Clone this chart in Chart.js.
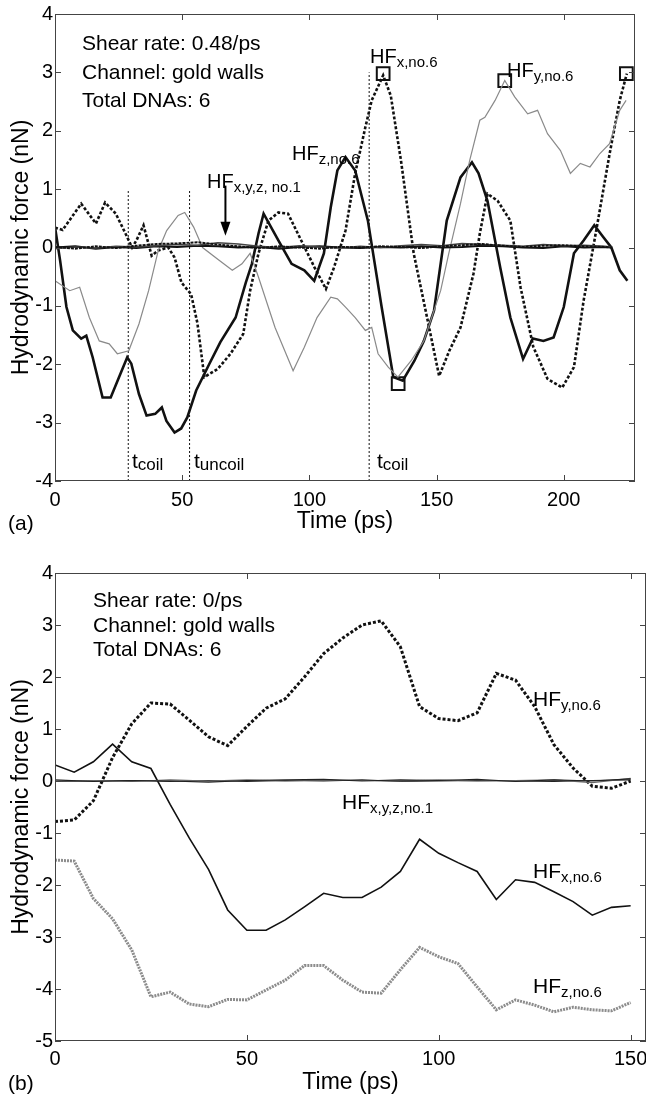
<!DOCTYPE html>
<html>
<head>
<meta charset="utf-8">
<script src="https://cdn.jsdelivr.net/npm/chart.js@4.4.1/dist/chart.umd.min.js"></script>
<style>
  html, body { margin: 0; padding: 0; background: #fff; }
  #wrap { position: relative; width: 646px; height: 1099px; overflow: hidden; }
  canvas { position: absolute; left: 0; }
  #chartA { top: 0; width: 646px; height: 545px; }
  #chartB { top: 545px; width: 646px; height: 554px; }
</style>
</head>
<body>
<div id="wrap">
  <canvas id="chartA" width="646" height="545"></canvas>
  <canvas id="chartB" width="646" height="554"></canvas>
</div>
<script>
const FAM = "'Liberation Sans', Arial, sans-serif";
Chart.defaults.font.family = FAM;
Chart.defaults.color = '#000';

// ---------- panel (a): shear rate 0.48/ps ----------
const aTicksX = [0, 50, 100, 150, 200];
const aTicksY = [-4, -3, -2, -1, 0, 1, 2, 3, 4];

// HF x, no.6 (thick dashed)
const aHFxT = [0, 3, 10.3, 16.1, 19.7, 23.9, 27.7, 30.3, 32, 34.8, 38, 40.6, 44.5, 47, 49.7, 53.5, 56, 58.7, 64, 69, 74, 76.7, 80, 83.9, 87.8, 91.6, 96.8, 102, 106.5, 109.7, 114.2, 118, 122, 124.5, 129, 132, 136, 141, 146.5, 151, 155, 159.4, 164.5, 167, 170, 174, 179, 183, 188, 193.6, 199.4, 204, 207.8, 213, 218, 222, 224.8];
const aHFx  = [0.34, 0.3, 0.75, 0.41, 0.77, 0.58, 0.24, 0.0, 0.12, 0.38, -0.14, -0.05, 0.0, -0.17, -0.6, -0.8, -1.3, -2.22, -2.08, -1.82, -1.48, -0.74, -0.1, 0.46, 0.6, 0.58, 0.12, -0.34, -0.71, -0.34, 0.29, 1.27, 2.06, 2.52, 2.95, 2.6, 1.49, -0.1, -1.25, -2.2, -1.77, -1.37, -0.45, 0.24, 0.92, 0.8, 0.46, -0.68, -1.7, -2.25, -2.4, -2.05, -0.91, 0.35, 1.6, 2.52, 2.98];

// HF z, no.6 (thick solid)
const aHFzT = [0, 2, 4.5, 7, 10.3, 12.3, 14.8, 18.7, 21.9, 25.2, 28.4, 30, 33, 36, 39.4, 42, 43.8, 47, 49.6, 52, 55.5, 60.6, 65, 71, 75, 77.4, 80, 82, 87.8, 93, 98, 101.9, 105.7, 108.4, 111, 114.2, 118, 123, 128.4, 133, 136.7, 141.3, 145, 149, 154, 159.4, 163.9, 166.5, 170, 175, 179, 184, 187.8, 192, 196, 200, 204, 207.8, 212, 215.5, 218.7, 222, 225];
const aHFz  = [0.35, -0.22, -1.02, -1.42, -1.56, -1.51, -1.88, -2.57, -2.57, -2.22, -1.88, -1.99, -2.51, -2.88, -2.85, -2.74, -2.97, -3.17, -3.1, -2.91, -2.45, -2.0, -1.62, -1.2, -0.6, -0.28, 0.24, 0.58, 0.12, -0.28, -0.39, -0.57, -0.1, 0.69, 1.32, 1.55, 1.32, 0.46, -1.02, -2.22, -2.28, -1.94, -1.6, -1.08, 0.46, 1.2, 1.46, 1.27, 0.8, -0.34, -1.2, -1.91, -1.56, -1.6, -1.54, -1.02, -0.1, 0.12, 0.38, 0.18, 0.0, -0.39, -0.57];

// HF y, no.6 (thin grey)
const aHFyT = [0, 5.8, 9.7, 13.5, 17.4, 21.3, 24.5, 29, 33, 36.8, 40.6, 43.9, 48.4, 51, 54.5, 58, 64.5, 69.7, 73.5, 76.7, 80, 86.5, 93.6, 98, 103, 108.4, 111, 114.2, 118, 122, 124.5, 127, 131, 134.8, 140, 145, 151.6, 154.8, 159.4, 163, 167, 169, 173, 176.8, 180.7, 185.8, 189.7, 193.6, 198.7, 202.6, 206.5, 210.3, 214.2, 218, 222, 224.5];
const aHFy  = [-0.57, -0.74, -0.68, -1.2, -1.6, -1.65, -1.82, -1.77, -1.31, -0.74, -0.05, 0.29, 0.55, 0.6, 0.35, 0.0, -0.22, -0.39, -0.28, -0.1, -0.51, -1.37, -2.11, -1.71, -1.2, -0.85, -0.88, -1.02, -1.2, -1.42, -1.37, -1.82, -2.05, -2.22, -1.94, -1.6, -0.74, -0.1, 0.75, 1.49, 2.18, 2.23, 2.52, 2.86, 2.58, 2.29, 2.35, 1.95, 1.66, 1.27, 1.44, 1.38, 1.61, 1.78, 2.35, 2.52];

// HF x,y,z of DNA no.1 (all close to zero)
const aNearT = [0, 8, 16, 24, 32, 40, 48, 56, 64, 72, 80, 88, 96, 104, 112, 120, 128, 136, 144, 152, 160, 168, 176, 184, 192, 200, 208, 216, 219];
const aHFx1 = [0.01, -0.02, 0.02, -0.01, 0.03, 0.06, 0.07, 0.09, 0.05, 0.02, -0.01, 0.02, 0.0, -0.02, 0.01, 0.0, 0.02, 0.01, -0.01, 0.02, 0.04, 0.06, 0.03, 0.01, 0.03, 0.04, 0.02, 0.01, 0.0];
const aHFy1 = [-0.02, 0.01, -0.01, 0.02, 0.01, 0.03, 0.05, 0.04, 0.08, 0.06, 0.02, 0.0, 0.03, 0.01, -0.01, 0.02, 0.0, 0.03, 0.05, 0.03, 0.07, 0.05, 0.04, 0.02, 0.05, 0.03, 0.04, 0.02, 0.01];
const aHFz1 = [0.0, 0.02, -0.02, 0.01, -0.01, 0.02, 0.01, 0.03, 0.02, 0.0, 0.01, -0.02, 0.01, 0.02, 0.0, -0.01, 0.01, 0.0, 0.02, 0.0, 0.01, 0.03, 0.02, 0.0, -0.01, 0.02, 0.0, 0.01, 0.0];

// coil / uncoil times and the height of their marker lines
const aEventT   = [28.8, 52.9, 123.5];
const aEventTop = [1.0, 1.0, 3.0];

// square markers (peaks)
const aMarkT = [129, 176.8, 224.6, 134.9];
const aMarkF = [2.98, 2.86, 2.98, -2.33];

// arrow pointing at the no.1 curves: time, from force, to force
const aArrow = [67, 1.06, 0.2];

// ---------- panel (b): shear rate 0/ps ----------
const bTicksX = [0, 50, 100, 150];
const bTicksY = [-5, -4, -3, -2, -1, 0, 1, 2, 3, 4];
const bTime = [0, 5, 10, 15, 20, 25, 30, 35, 40, 45, 50, 55, 60, 65, 70, 75, 80, 85, 90, 95, 100, 105, 110, 115, 120, 125, 130, 135, 140, 145, 150];
const bHFy = [-0.78, -0.75, -0.38, 0.45, 1.1, 1.5, 1.48, 1.17, 0.85, 0.68, 1.05, 1.4, 1.58, 2.0, 2.45, 2.75, 3.0, 3.08, 2.58, 1.43, 1.2, 1.16, 1.31, 2.07, 1.94, 1.43, 0.7, 0.25, -0.1, -0.14, 0.0];
const bHFx = [0.31, 0.17, 0.37, 0.71, 0.37, 0.24, -0.45, -1.1, -1.7, -2.48, -2.87, -2.87, -2.67, -2.42, -2.16, -2.24, -2.24, -2.04, -1.74, -1.12, -1.39, -1.57, -1.74, -2.28, -1.9, -1.95, -2.13, -2.32, -2.58, -2.43, -2.4];
const bHFz = [-1.52, -1.54, -2.26, -2.65, -3.25, -4.15, -4.06, -4.29, -4.34, -4.2, -4.21, -4.02, -3.83, -3.55, -3.55, -3.83, -4.06, -4.08, -3.63, -3.2, -3.38, -3.51, -3.96, -4.4, -4.21, -4.31, -4.44, -4.35, -4.4, -4.42, -4.26];
const bNearT = [0, 10, 20, 30, 40, 50, 60, 70, 80, 90, 100, 110, 120, 130, 140, 150];
const bHFx1 = [0.02, -0.01, 0.01, 0.0, -0.02, 0.01, 0.02, 0.03, 0.0, 0.02, 0.01, 0.03, -0.01, 0.02, 0.0, 0.04];
const bHFy1 = [0.0, 0.01, -0.01, 0.02, 0.0, 0.02, 0.0, 0.02, 0.01, 0.0, 0.02, 0.0, 0.01, 0.02, -0.03, 0.05];
const bHFz1 = [-0.01, 0.0, 0.01, -0.01, 0.01, -0.01, 0.01, 0.0, 0.02, -0.01, 0.0, 0.01, 0.0, -0.01, 0.01, 0.02];

function pts(ts, vs) {
  return ts.map((t, i) => ({ x: t, y: vs[i] }));
}

function line(ts, vs, color, width, dash) {
  return {
    data: pts(ts, vs),
    borderColor: color,
    borderWidth: width,
    borderDash: dash || [],
    pointRadius: 0,
    tension: 0,
    fill: false
  };
}

// box, inward ticks, texts and arrow drawn on top of the chart
const deco = {
  id: 'deco',
  afterDraw(chart, args, opts) {
    const ctx = chart.ctx;
    const area = chart.chartArea;
    const xs = chart.scales.x, ys = chart.scales.y;
    ctx.save();
    ctx.strokeStyle = '#444';
    ctx.lineWidth = 1;
    ctx.setLineDash([]);
    ctx.strokeRect(area.left + 0.5, area.top + 0.5, area.right - area.left - 1, area.bottom - area.top - 1);
    ctx.beginPath();
    xs.ticks.forEach(t => {
      const p = Math.round(xs.getPixelForValue(t.value)) + 0.5;
      ctx.moveTo(p, area.bottom); ctx.lineTo(p, area.bottom - 6);
      ctx.moveTo(p, area.top); ctx.lineTo(p, area.top + 6);
    });
    ys.ticks.forEach(t => {
      const p = Math.round(ys.getPixelForValue(t.value)) + 0.5;
      ctx.moveTo(area.left, p); ctx.lineTo(area.left + 6, p);
      ctx.moveTo(area.right, p); ctx.lineTo(area.right - 6, p);
    });
    ctx.stroke();

    if (opts.arrow) {
      const ax = xs.getPixelForValue(opts.arrow[0]);
      const y0 = ys.getPixelForValue(opts.arrow[1]);
      const y1 = ys.getPixelForValue(opts.arrow[2]);
      ctx.strokeStyle = '#000';
      ctx.lineWidth = 2;
      ctx.beginPath();
      ctx.moveTo(ax, y0); ctx.lineTo(ax, y1 - 10);
      ctx.stroke();
      ctx.fillStyle = '#000';
      ctx.beginPath();
      ctx.moveTo(ax, y1); ctx.lineTo(ax - 5, y1 - 14); ctx.lineTo(ax + 5, y1 - 14);
      ctx.closePath();
      ctx.fill();
    }

    ctx.fillStyle = '#000';
    ctx.textAlign = 'left';
    ctx.textBaseline = 'alphabetic';
    (opts.texts || []).forEach(tx => {
      ctx.font = (tx.size || 21) + 'px ' + FAM;
      ctx.fillText(tx.main, tx.x, tx.y);
      if (tx.sub) {
        const w = ctx.measureText(tx.main).width;
        ctx.font = (tx.subSize || 15) + 'px ' + FAM;
        ctx.fillText(tx.sub, tx.x + w, tx.y + (tx.dy || 4));
      }
    });
    ctx.restore();
  }
};

function axes(xMin, xMax, yMin, yMax, xTicks, yTicks, xAxisH, tickPad, titlePad) {
  return {
    x: {
      type: 'linear', min: xMin, max: xMax,
      grid: { display: false, drawTicks: false },
      border: { display: false },
      afterBuildTicks: s => { s.ticks = xTicks.map(v => ({ value: v })); },
      afterFit: s => { s.height = xAxisH; s.paddingLeft = 0; s.paddingRight = 0; },
      ticks: { font: { size: 20 }, padding: tickPad, maxRotation: 0, callback: v => String(v) },
      title: { display: true, text: 'Time (ps)', font: { size: 23 }, padding: { top: 0, bottom: titlePad } }
    },
    y: {
      type: 'linear', min: yMin, max: yMax,
      grid: { display: false, drawTicks: false },
      border: { display: false },
      afterBuildTicks: s => { s.ticks = yTicks.map(v => ({ value: v })); },
      afterFit: s => { s.width = 55; s.paddingTop = 0; s.paddingBottom = 0; },
      ticks: { font: { size: 20 }, padding: 2, callback: v => String(v) },
      title: { display: true, text: 'Hydrodynamic force (nN)', font: { size: 23 }, padding: { top: 8, bottom: 0 } }
    }
  };
}

const baseOpts = {
  responsive: false,
  animation: false,
  devicePixelRatio: 1,
  events: []
};

// panel (a)
const aSets = [
  line(aNearT, aHFx1, '#111', 2, [3, 1]),
  line(aNearT, aHFy1, '#444', 1.5),
  line(aNearT, aHFz1, '#111', 2),
  line(aHFyT, aHFy, '#8a8a8a', 1.2),
  line(aHFzT, aHFz, '#111', 2.6),
  line(aHFxT, aHFx, '#111', 2.6, [3, 2])
];
aEventT.forEach((t, i) => {
  aSets.push(line([t, t], [-4, aEventTop[i]], '#111', 1, [2, 2]));
});
aSets.push({
  data: pts(aMarkT, aMarkF),
  showLine: false,
  pointStyle: 'rect',
  pointRadius: 9,
  pointBorderWidth: 2,
  pointBorderColor: '#111',
  pointBackgroundColor: 'rgba(0,0,0,0)'
});

new Chart(document.getElementById('chartA'), {
  type: 'line',
  data: { datasets: aSets },
  options: Object.assign({}, baseOpts, {
    layout: { padding: { top: 14, right: 3, left: 0, bottom: 0 } },
    scales: axes(0, 228, -4, 4, aTicksX, aTicksY, 64, 7, 10),
    plugins: {
      legend: { display: false },
      tooltip: { enabled: false },
      deco: {
        arrow: aArrow,
        texts: [
          { x: 82, y: 50, main: 'Shear rate: 0.48/ps' },
          { x: 82, y: 79, main: 'Channel: gold walls' },
          { x: 82, y: 107, main: 'Total DNAs: 6' },
          { x: 370, y: 63, main: 'HF', sub: 'x,no.6', size: 20 },
          { x: 507, y: 77, main: 'HF', sub: 'y,no.6', size: 20 },
          { x: 292, y: 160, main: 'HF', sub: 'z,no.6', size: 20 },
          { x: 207, y: 188, main: 'HF', sub: 'x,y,z, no.1', size: 20 },
          { x: 132, y: 468, main: 't', sub: 'coil', size: 21, subSize: 17, dy: 2 },
          { x: 194, y: 468, main: 't', sub: 'uncoil', size: 21, subSize: 17, dy: 2 },
          { x: 377, y: 468, main: 't', sub: 'coil', size: 21, subSize: 17, dy: 2 },
          { x: 8, y: 530, main: '(a)', size: 21 }
        ]
      }
    }
  }),
  plugins: [deco]
});

// panel (b)
const bSets = [
  line(bNearT, bHFx1, '#222', 1.2),
  line(bNearT, bHFy1, '#666', 1.2),
  line(bNearT, bHFz1, '#222', 1.2),
  line(bTime, bHFz, '#8c8c8c', 3, [2, 1]),
  line(bTime, bHFx, '#111', 1.6),
  line(bTime, bHFy, '#111', 3, [3, 2])
];

new Chart(document.getElementById('chartB'), {
  type: 'line',
  data: { datasets: bSets },
  options: Object.assign({}, baseOpts, {
    layout: { padding: { top: 28, right: 0, left: 0, bottom: 0 } },
    scales: axes(0, 154, -5, 4, bTicksX, bTicksY, 58, 6, 3),
    plugins: {
      legend: { display: false },
      tooltip: { enabled: false },
      deco: {
        texts: [
          { x: 93, y: 62, main: 'Shear rate: 0/ps' },
          { x: 93, y: 87, main: 'Channel: gold walls' },
          { x: 93, y: 111, main: 'Total DNAs: 6' },
          { x: 533, y: 161, main: 'HF', sub: 'y,no.6' },
          { x: 342, y: 264, main: 'HF', sub: 'x,y,z,no.1' },
          { x: 533, y: 333, main: 'HF', sub: 'x,no.6' },
          { x: 533, y: 448, main: 'HF', sub: 'z,no.6' },
          { x: 8, y: 545, main: '(b)', size: 21 }
        ]
      }
    }
  }),
  plugins: [deco]
});
</script>
</body>
</html>
